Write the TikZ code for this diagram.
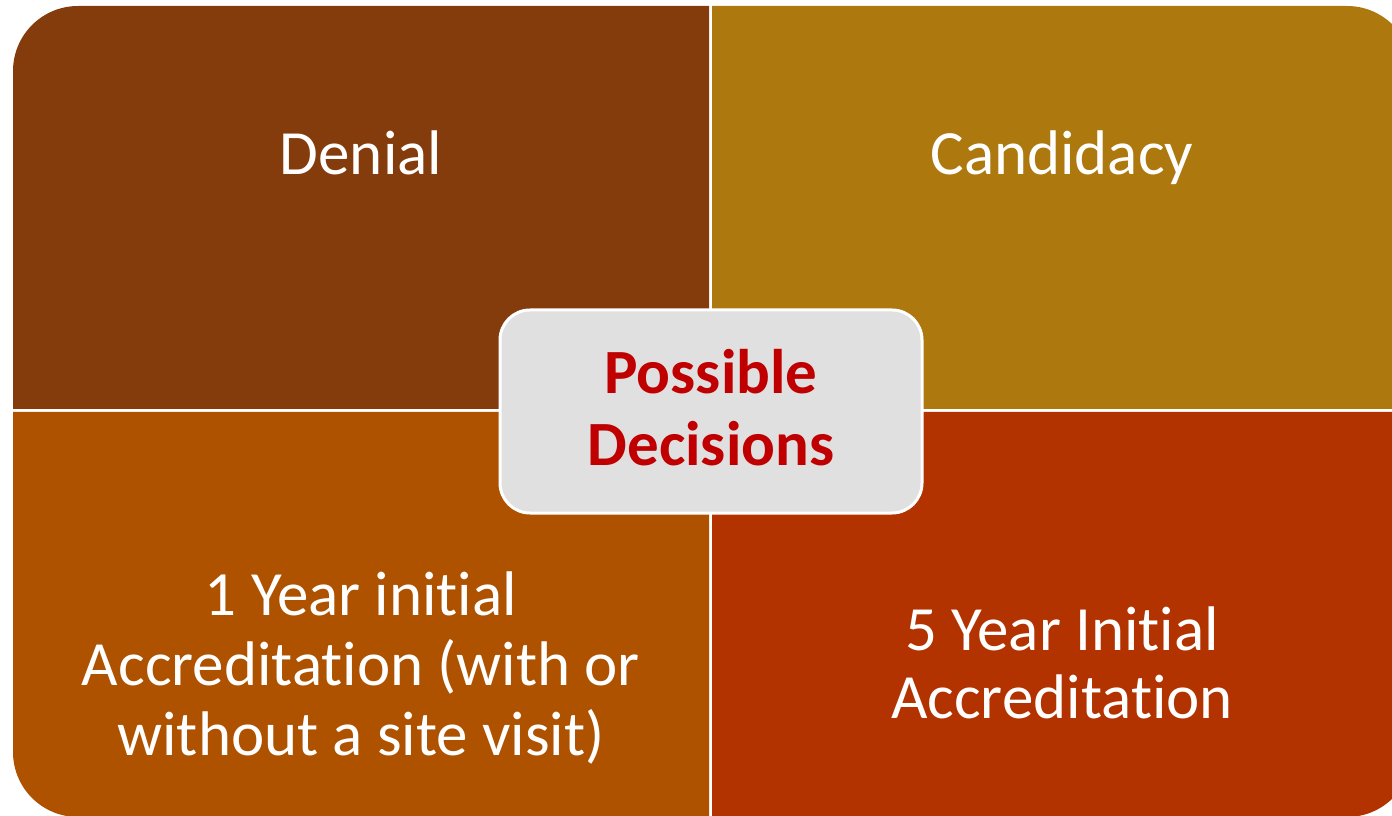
\documentclass[tikz,border=0pt]{standalone}
\usepackage{fontspec}
\setmainfont{Carlito}[Ligatures=NoCommon]
\definecolor{qdenial}{HTML}{843C0C}
\definecolor{qcand}{HTML}{AD790E}
\definecolor{qone}{HTML}{AE5200}
\definecolor{qfive}{HTML}{B33300}
\definecolor{hubfill}{HTML}{E0E0E0}
\definecolor{hubtext}{HTML}{C00000}
\begin{document}
\begin{tikzpicture}[x=1pt,y=1pt,
  quadtext/.style={text=white,align=center,inner sep=0pt,anchor=base,
    font=\fontsize{63}{69}\selectfont},
  hubbox/.style={fill=hubfill,draw=white,line width=3pt,rounded corners=30pt,
    minimum width=422pt,minimum height=203pt,inner sep=0pt},
  hublabel/.style={text=hubtext,align=center,inner sep=0pt,anchor=base,
    font=\fontsize{63}{72}\selectfont\bfseries}]
\useasboundingbox (0,0) rectangle (1392,815);
\clip (0,0) rectangle (1392,815);
% four quadrants, each with its outer corner rounded
\fill[qdenial] (13,406) -- (13,744) arc[start angle=180,end angle=90,radius=65pt]
  -- (709,809) -- (709,406) -- cycle;
\fill[qcand] (712,406) -- (712,809) -- (1347,809)
  arc[start angle=90,end angle=0,radius=65pt] -- (1412,406) -- cycle;
\fill[qone] (13,403) -- (709,403) -- (709,-2) -- (78,-2)
  arc[start angle=270,end angle=180,radius=65pt] -- cycle;
\fill[qfive] (712,403) -- (1412,403) -- (1412,63)
  arc[start angle=0,end angle=-90,radius=65pt] -- (712,-2) -- cycle;
% quadrant labels (a multi-line node sits on its last baseline)
\node[quadtext] (denial) at (361,640) {Denial};
\node[quadtext] (candidacy) at (1062,640) {Candidacy};
\node[quadtext,font=\fontsize{63}{70}\selectfont] (oneyear) at (361,60)
  {1 Year initial\\Accreditation (with or\\without a site visit)};
\node[quadtext,font=\fontsize{63}{68}\selectfont] (fiveyear) at (1062,97)
  {5 Year Initial\\Accreditation};
% central box
\node[hubbox] (hub) at (711,403.5) {};
\node[hublabel] (hublabel) at (711,350) {Possible\\Decisions};
\end{tikzpicture}
\end{document}
